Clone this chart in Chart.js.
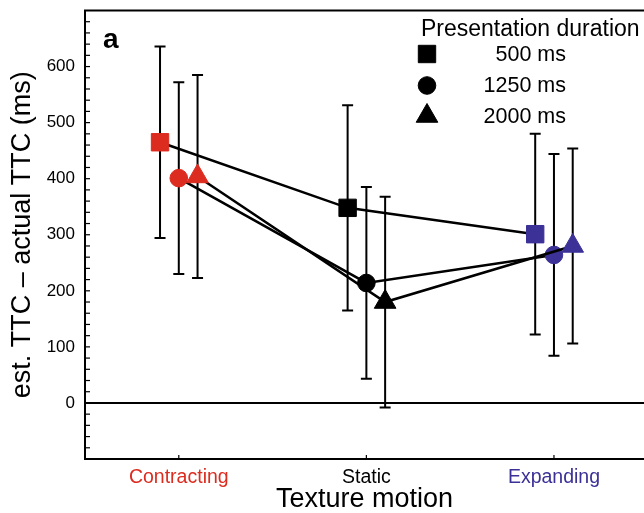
<!DOCTYPE html>
<html>
<head>
<meta charset="utf-8">
<script src="https://cdn.jsdelivr.net/npm/chart.js@4.4.1/dist/chart.umd.min.js"></script>
<style>
  html, body { margin: 0; padding: 0; background: #fff; overflow: hidden; }
  canvas { display: block; }
</style>
</head>
<body>
<canvas id="chart" width="644" height="513"></canvas>
<script>
// Texture motion conditions and presentation durations
const categories = ['Contracting', 'Static', 'Expanding'];
const durations = ['500 ms', '1250 ms', '2000 ms'];

// Mean (est. TTC - actual TTC) in ms, per texture motion
const mean500 = [465, 348, 301];
const mean1250 = [401, 214, 264];
const mean2000 = [404, 180, 280];

// Error bar half-lengths in ms
const err500 = [171, 183, 179];
const err1250 = [171, 171, 180];
const err2000 = [181, 188, 174];

// Labelled y ticks
const yTickValues = [0, 100, 200, 300, 400, 500, 600];

const FONT = "'Liberation Sans', Arial, Helvetica, sans-serif";
const categoryColors = ['#dc2b1f', '#000000', '#3b3196'];

const seriesStyle = [
  { style: 'rect', radius: 12.3, offset: -0.1, order: 3 },
  { style: 'circle', radius: 8.8, offset: 0, order: 2 },
  { style: 'triangle', radius: 12.5, offset: 0.1, order: 1 }
];
const seriesMeans = [mean500, mean1250, mean2000];
const seriesErrs = [err500, err1250, err2000];

const datasets = durations.map((label, s) => ({
  label,
  data: categories.map((c, i) => ({ x: i + 1 + seriesStyle[s].offset, y: seriesMeans[s][i] })),
  errors: seriesErrs[s],
  order: seriesStyle[s].order,
  borderColor: '#000',
  borderWidth: 2.5,
  tension: 0,
  fill: false,
  pointStyle: seriesStyle[s].style,
  pointRadius: seriesStyle[s].radius,
  pointHoverRadius: seriesStyle[s].radius,
  pointBackgroundColor: categoryColors,
  pointBorderColor: categoryColors,
  pointBorderWidth: 1
}));

// Error bars, zero line and axis decorations
const decorations = {
  id: 'decorations',
  beforeDatasetsDraw(chart) {
    const { ctx, chartArea, scales: { x, y } } = chart;
    ctx.save();
    ctx.strokeStyle = '#000';
    ctx.lineCap = 'butt';

    // zero reference line
    ctx.lineWidth = 2;
    const y0 = y.getPixelForValue(0);
    ctx.beginPath();
    ctx.moveTo(chartArea.left, y0);
    ctx.lineTo(chartArea.right, y0);
    ctx.stroke();

    // error bars
    ctx.lineWidth = 2;
    const cap = 5.5;
    chart.data.datasets.forEach(ds => {
      ds.data.forEach((p, i) => {
        const px = x.getPixelForValue(p.x);
        const top = y.getPixelForValue(p.y + ds.errors[i]);
        const bot = y.getPixelForValue(p.y - ds.errors[i]);
        ctx.beginPath();
        ctx.moveTo(px, top); ctx.lineTo(px, bot);
        ctx.moveTo(px - cap, top); ctx.lineTo(px + cap, top);
        ctx.moveTo(px - cap, bot); ctx.lineTo(px + cap, bot);
        ctx.stroke();
      });
    });
    ctx.restore();
  },
  afterDraw(chart) {
    const { ctx, chartArea, scales: { x, y } } = chart;
    const H = Chart.helpers;
    ctx.save();
    ctx.strokeStyle = '#000';

    // top frame line
    ctx.lineWidth = 2;
    ctx.beginPath();
    ctx.moveTo(chartArea.left - 1, chartArea.top);
    ctx.lineTo(chartArea.right, chartArea.top);
    ctx.stroke();

    // inward y ticks every 20 ms
    ctx.lineWidth = 1.2;
    for (let v = -80; v < 700; v += 20) {
      const py = y.getPixelForValue(v);
      ctx.beginPath();
      ctx.moveTo(chartArea.left, py);
      ctx.lineTo(chartArea.left + 5, py);
      ctx.stroke();
    }
    // inward x ticks at each texture motion
    categories.forEach((c, i) => {
      const px = x.getPixelForValue(i + 1);
      ctx.beginPath();
      ctx.moveTo(px, chartArea.bottom);
      ctx.lineTo(px, chartArea.bottom - 4);
      ctx.stroke();
    });

    // panel letter
    ctx.fillStyle = '#000';
    ctx.font = 'bold 28px ' + FONT;
    ctx.textAlign = 'left';
    ctx.textBaseline = 'alphabetic';
    ctx.fillText('a', chartArea.left + 18, chartArea.top + 37);

    // legend
    const lx = chartArea.left + 336;
    const ly = chartArea.top;
    ctx.font = '23px ' + FONT;
    ctx.textBaseline = 'middle';
    ctx.fillText('Presentation duration', lx, ly + 19);
    ctx.font = '21.5px ' + FONT;
    const rows = [43.5, 75, 105.5];
    durations.forEach((label, s) => {
      const ry = ly + rows[s];
      ctx.fillStyle = '#000';
      ctx.strokeStyle = '#000';
      ctx.lineWidth = 1;
      H.drawPoint(ctx, {
        pointStyle: seriesStyle[s].style,
        radius: seriesStyle[s].radius,
        rotation: 0,
        borderWidth: 1
      }, lx + 6, ry);
      ctx.textAlign = 'right';
      ctx.fillText(label, lx + 145, ry + 1);
    });
    ctx.restore();
  }
};

new Chart(document.getElementById('chart'), {
  type: 'line',
  data: { datasets },
  plugins: [decorations],
  options: {
    responsive: false,
    animation: false,
    events: [],
    layout: { autoPadding: false, padding: { top: 10.5, left: 0, right: 0, bottom: 0 } },
    plugins: { legend: { display: false }, tooltip: { enabled: false } },
    scales: {
      x: {
        type: 'linear',
        min: 0.5,
        max: 3.48,
        afterBuildTicks: s => { s.ticks = categories.map((c, i) => ({ value: i + 1 })); },
        afterFit: s => { s.height = 54; s.paddingLeft = 0; s.paddingRight = 0; },
        grid: { display: false, drawTicks: false },
        border: { display: true, color: '#000', width: 2 },
        ticks: {
          callback: v => categories[Math.round(v) - 1],
          color: c => categoryColors[Math.round(c.tick.value) - 1],
          font: { family: FONT, size: 19.5 },
          padding: 7,
          maxRotation: 0,
          autoSkip: false
        },
        title: {
          display: true,
          text: 'Texture motion',
          color: '#000',
          font: { family: FONT, size: 27, lineHeight: 1 },
          padding: { top: 0, bottom: 0 }
        }
      },
      y: {
        type: 'linear',
        min: -100,
        max: 700,
        afterBuildTicks: s => { s.ticks = yTickValues.map(v => ({ value: v })); },
        afterFit: s => { s.width = 85; s.paddingTop = 0; s.paddingBottom = 0; },
        grid: { display: false, drawTicks: false },
        border: { display: true, color: '#000', width: 2 },
        ticks: {
          color: '#000',
          font: { family: FONT, size: 17 },
          padding: 10
        },
        title: {
          display: true,
          text: 'est. TTC \u2013 actual TTC (ms)',
          color: '#000',
          font: { family: FONT, size: 27 },
          padding: { top: 6, bottom: 0 }
        }
      }
    }
  }
});
</script>
</body>
</html>
